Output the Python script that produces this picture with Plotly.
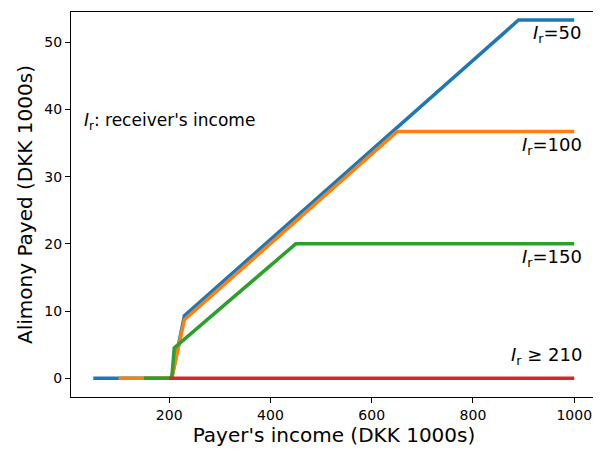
import plotly.graph_objects as go

colors = ["#1f77b4", "#ff7f0e", "#2ca02c", "#d62728"]
x_50 = [50, 205, 230, 890, 1000]
y_50 = [0, 0, 9.3, 53.3, 53.3]
x_100 = [100, 205, 230, 650, 1000]
y_100 = [0, 0, 8.7, 36.7, 36.7]
x_150 = [150, 205, 210, 450, 1000]
y_150 = [0, 0, 4.5, 20, 20]
x_210 = [200, 1000]
y_210 = [0, 0]

fig = go.Figure()
for xs, ys, c in zip([x_50, x_100, x_150, x_210], [y_50, y_100, y_150, y_210], colors):
    fig.add_trace(go.Scatter(x=xs, y=ys, mode="lines", line=dict(color=c, width=3.5)))

labels = [(53.3, "top", "<i>I</i><sub>r</sub>=50"), (36.7, "top", "<i>I</i><sub>r</sub>=100"),
          (20, "top", "<i>I</i><sub>r</sub>=150"), (1.2, "bottom", "<i>I</i><sub>r</sub> ≥ 210")]
for y, anc, t in labels:
    fig.add_annotation(x=1020, y=y, text=t, showarrow=False, xanchor="right",
                       yanchor=anc, font=dict(size=18, color="black"))
fig.add_annotation(x=0.02, y=0.75, xref="paper", yref="paper", text="<i>I</i><sub>r</sub>: receiver's income",
                   showarrow=False, xanchor="left", font=dict(size=17, color="black"))

ax = dict(showgrid=False, zeroline=False, showline=True, mirror=True, linecolor="black",
          ticks="outside", tickcolor="black", tickfont=dict(size=14, color="black"))
fig.update_layout(
    width=601, height=451, plot_bgcolor="white", paper_bgcolor="white", showlegend=False,
    margin=dict(l=63, r=12, t=4, b=62, autoexpand=False), font=dict(family="DejaVu Sans"),
    xaxis=dict(ax, range=[6, 1045], tickvals=[200, 400, 600, 800, 1000], automargin=False,
               title=dict(text="Payer's income (DKK 1000s)", font=dict(size=20, color="black"), standoff=2)),
    yaxis=dict(ax, range=[-2.8, 54.5], tickvals=[0, 10, 20, 30, 40, 50], automargin=False,
               title=dict(text="Alimony Payed (DKK 1000s)", font=dict(size=20, color="black"), standoff=6)),
)
fig.write_html("out.html")
